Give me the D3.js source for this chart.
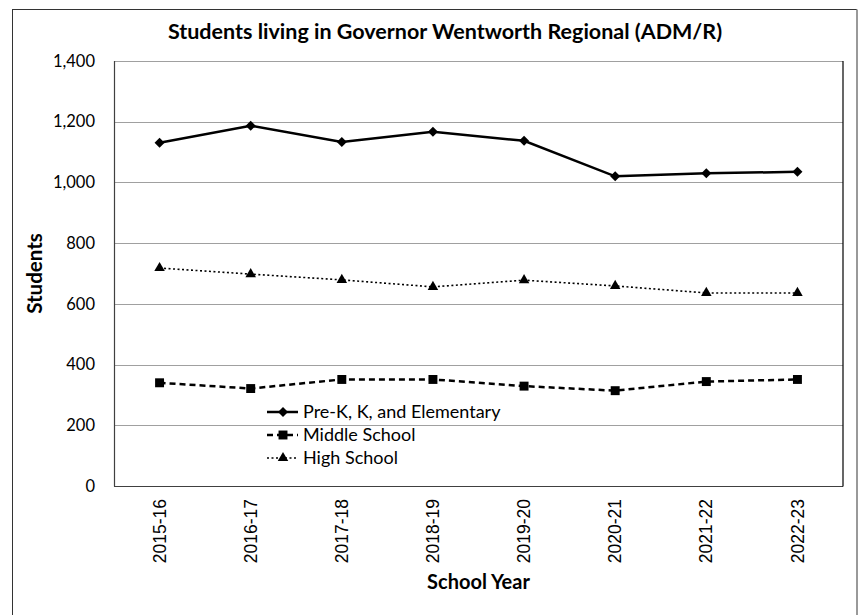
<!DOCTYPE html>
<html>
<head>
<meta charset="utf-8">
<script src="https://cdn.jsdelivr.net/npm/d3@7"></script>
<style>
  body { margin: 0; background: #fff; }
  svg { display: block; }
</style>
</head>
<body>
<script>
// chart data
var years = ["2015-16", "2016-17", "2017-18", "2018-19", "2019-20", "2020-21", "2021-22", "2022-23"];
var elementary = [1131, 1187, 1133, 1167, 1137, 1020, 1030, 1035];
var middle = [340, 321, 351, 351, 329, 314, 344, 351];
var high = [718, 698, 679, 656, 678, 659, 636, 636];
var seriesNames = ["Pre-K, K, and Elementary", "Middle School", "High School"];
var yTicks = [0, 200, 400, 600, 800, 1000, 1200, 1400];

var W = 860, H = 615,
    plot = {left: 114, right: 843, top: 61, bottom: 486};

var svg = d3.select("body").append("svg")
    .attr("width", W)
    .attr("height", H);

// outer frame
svg.append("line").attr("x1", 12).attr("y1", 9.5).attr("x2", 857).attr("y2", 9.5)
    .attr("stroke", "#333").attr("stroke-width", 1);
svg.append("line").attr("x1", 12.5).attr("y1", 9.5).attr("x2", 12.5).attr("y2", H)
    .attr("stroke", "#333").attr("stroke-width", 1);
svg.append("line").attr("x1", 857).attr("y1", 9.5).attr("x2", 857).attr("y2", H)
    .attr("stroke", "#999").attr("stroke-width", 2);

var x = d3.scaleBand()
    .domain(years)
    .range([plot.left, plot.right]);

var y = d3.scaleLinear()
    .domain([0, 1400])
    .range([plot.bottom, plot.top]);

function cx(d, i) { return x(years[i]) + x.bandwidth() / 2; }

// gridlines
svg.append("g").selectAll("line")
  .data(yTicks)
  .enter().append("line")
    .attr("x1", plot.left).attr("x2", plot.right)
    .attr("y1", function(d) { return Math.round(y(d)) + 0.5; })
    .attr("y2", function(d) { return Math.round(y(d)) + 0.5; })
    .attr("stroke", function(d) { return d == 0 ? "#404040" : "#a0a0a0"; })
    .attr("stroke-width", 1.2);

// plot frame sides
svg.append("line").attr("x1", plot.left + 0.5).attr("x2", plot.left + 0.5)
    .attr("y1", plot.top).attr("y2", plot.bottom + 0.5)
    .attr("stroke", "#404040").attr("stroke-width", 1.2);
svg.append("line").attr("x1", plot.right).attr("x2", plot.right)
    .attr("y1", plot.top).attr("y2", plot.bottom + 0.5)
    .attr("stroke", "#000").attr("stroke-width", 1.2);

// y axis labels
var yAxis = d3.axisLeft(y).tickValues(yTicks).tickFormat(d3.format(",")).tickSize(0).tickPadding(19);
var gy = svg.append("g")
    .attr("transform", "translate(" + plot.left + ",0)")
    .call(yAxis);
gy.select(".domain").remove();
gy.selectAll("text")
    .style("font-family", "Lato, 'Open Sans', sans-serif")
    .style("font-size", "16.5px")
    .attr("fill", "#000");

// x axis labels
var xAxis = d3.axisBottom(x).tickSize(0).tickPadding(0);
var gx = svg.append("g")
    .attr("transform", "translate(0," + plot.bottom + ")")
    .call(xAxis);
gx.select(".domain").remove();
gx.selectAll("text")
    .attr("transform", "rotate(-90)")
    .attr("x", -13)
    .attr("y", 0)
    .attr("dy", "0.35em")
    .style("text-anchor", "end")
    .style("font-family", "'Liberation Sans', Arial, sans-serif")
    .style("font-size", "17.5px")
    .attr("fill", "#000");

// titles
svg.append("text")
    .attr("x", 445).attr("y", 39)
    .attr("text-anchor", "middle")
    .style("font-family", "Lato, sans-serif")
    .style("font-weight", "bold")
    .style("font-size", "21.5px")
    .text("Students living in Governor Wentworth Regional (ADM/R)");

svg.append("text")
    .attr("transform", "translate(42," + (plot.top + plot.bottom) / 2 + ") rotate(-90)")
    .attr("text-anchor", "middle")
    .style("font-family", "Lato, sans-serif")
    .style("font-weight", "bold")
    .style("font-size", "20.5px")
    .text("Students");

svg.append("text")
    .attr("x", (plot.left + plot.right) / 2).attr("y", 589)
    .attr("text-anchor", "middle")
    .style("font-family", "Lato, sans-serif")
    .style("font-weight", "bold")
    .style("font-size", "20px")
    .text("School Year");

// series
var series = [
  {name: seriesNames[0], values: elementary, dash: null, width: 2.5, symbol: d3.symbolSquare, size: 50, rotate: 45},
  {name: seriesNames[1], values: middle, dash: "6,4", width: 2.5, symbol: d3.symbolSquare, size: 80, rotate: 0},
  {name: seriesNames[2], values: high, dash: "2,2.5", width: 1.6, symbol: d3.symbolTriangle, size: 48, rotate: 0}
];

var line = d3.line()
    .x(cx)
    .y(function(d) { return y(d); });

series.forEach(function(s) {
  svg.append("path")
      .datum(s.values)
      .attr("d", line)
      .attr("fill", "none")
      .attr("stroke", "#000")
      .attr("stroke-width", s.width)
      .attr("stroke-dasharray", s.dash);

  svg.append("g").selectAll("path")
    .data(s.values)
    .enter().append("path")
      .attr("d", d3.symbol().type(s.symbol).size(s.size))
      .attr("transform", function(d, i) {
        return "translate(" + cx(d, i) + "," + y(d) + ") rotate(" + s.rotate + ")";
      })
      .attr("fill", "#000");
});

// legend
var legend = svg.append("g")
    .attr("transform", "translate(267,412)");

var item = legend.selectAll("g")
  .data(series)
  .enter().append("g")
    .attr("transform", function(d, i) { return "translate(0," + (i * 23) + ")"; });

item.append("line")
    .attr("x1", 0).attr("x2", 31)
    .attr("stroke", "#000")
    .attr("stroke-width", function(d) { return d.width; })
    .attr("stroke-dasharray", function(d) { return d.dash; });

item.append("path")
    .attr("d", function(d) { return d3.symbol().type(d.symbol).size(d.size)(); })
    .attr("transform", function(d) { return "translate(16,0) rotate(" + d.rotate + ")"; })
    .attr("fill", "#000");

item.append("text")
    .attr("x", 36)
    .attr("dy", "0.35em")
    .style("font-family", "Lato, sans-serif")
    .style("font-size", "18px")
    .text(function(d) { return d.name; });
</script>
</body>
</html>
